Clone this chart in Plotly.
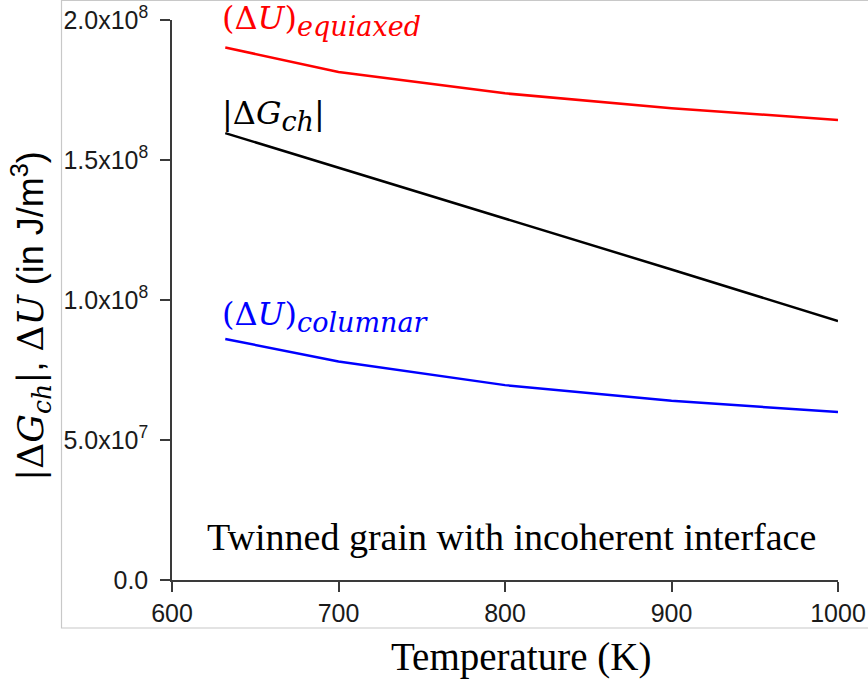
import plotly.graph_objects as go

temperature = [632, 700, 800, 900, 1000]
du_equiaxed = [1.902e8, 1.814e8, 1.738e8, 1.685e8, 1.643e8]
dg_ch = [1.596e8, 1.473e8, 1.292e8, 1.109e8, 0.925e8]
du_columnar = [0.861e8, 0.780e8, 0.696e8, 0.640e8, 0.600e8]

y_tickvals = [0, 0.5e8, 1.0e8, 1.5e8, 2.0e8]
y_ticktext = ["0.0", "5.0x10<sup>7</sup>", "1.0x10<sup>8</sup>", "1.5x10<sup>8</sup>", "2.0x10<sup>8</sup>"]
x_tickvals = [600, 700, 800, 900, 1000]

fig = go.Figure()
fig.add_trace(go.Scatter(x=temperature, y=du_equiaxed, mode="lines",
                         line=dict(color="#ff0000", width=2.5), showlegend=False))
fig.add_trace(go.Scatter(x=temperature, y=dg_ch, mode="lines",
                         line=dict(color="#000000", width=2.5), showlegend=False))
fig.add_trace(go.Scatter(x=temperature, y=du_columnar, mode="lines",
                         line=dict(color="#0000ff", width=2.5), showlegend=False))

axis_col = "#3a3a3a"
tick_font = dict(family="Liberation Sans, Arial", size=25, color="#1a1a1a")
fig.update_xaxes(range=[600, 1000], tickvals=x_tickvals, ticks="outside", ticklen=10,
                 tickwidth=1.5, tickcolor=axis_col, showline=True, linecolor=axis_col,
                 linewidth=1.5, showgrid=False, zeroline=False, automargin=False,
                 tickfont=tick_font)
fig.update_yaxes(range=[0, 2.0e8], tickvals=y_tickvals, ticktext=y_ticktext,
                 ticks="outside", ticklen=10, tickwidth=1.5, tickcolor=axis_col,
                 showline=True, linecolor=axis_col, linewidth=1.5, showgrid=False,
                 zeroline=False, automargin=False, tickfont=tick_font,
                 ticklabelstandoff=7)

math_font = "DejaVu Serif"
sub_style = "font-size:27px"
annotations = [
    dict(x=629, y=(580 - 21) / 560, xref="x", yref="paper", xanchor="left", yanchor="middle",
         text="(Δ<i>U</i>)<sub><span style='" + sub_style + "'><i>equiaxed</i></span></sub>",
         font=dict(family=math_font, size=32, color="#ff0000"), showarrow=False),
    dict(x=629, y=1.66e8, xref="x", yref="y", xanchor="left", yanchor="middle",
         text="|Δ<i>G</i><sub><span style='" + sub_style + "'><i>ch</i></span></sub>|",
         font=dict(family=math_font, size=32, color="#000000"), showarrow=False),
    dict(x=629, y=0.94e8, xref="x", yref="y", xanchor="left", yanchor="middle",
         text="(Δ<i>U</i>)<sub><span style='" + sub_style + "'><i>columnar</i></span></sub>",
         font=dict(family=math_font, size=32, color="#0000ff"), showarrow=False),
    dict(x=804, y=0.155e8, xref="x", yref="y", xanchor="center", yanchor="middle",
         text="Twinned grain with incoherent interface",
         font=dict(family="Liberation Serif", size=38, color="#000000"), showarrow=False),
    dict(x=(521 - 172) / 666, y=(580 - 657) / 560, xref="paper", yref="paper",
         xanchor="center", yanchor="middle", text="Temperature (K)",
         font=dict(family="Liberation Serif", size=39, color="#000000"), showarrow=False),
    dict(x=(31 - 172) / 666, y=(580 - 316) / 560, xref="paper", yref="paper",
         xanchor="center", yanchor="middle", textangle=-90,
         text=("|Δ<i>G</i><sub><i>ch</i></sub>|"
               "<span style='font-family:Liberation Sans'>, </span>Δ<i>U</i>"
               "<span style='font-family:Liberation Sans'> (in J/m<sup>3</sup>)</span>"),
         font=dict(family=math_font, size=36, color="#000000"), showarrow=False),
]

fig.update_layout(
    width=868, height=685,
    margin=dict(l=172, r=30, t=20, b=105, autoexpand=False),
    paper_bgcolor="white", plot_bgcolor="white",
    annotations=annotations,
    shapes=[dict(type="rect", xref="paper", yref="paper",
                 x0=(61.5 - 172) / 666, x1=(870 - 172) / 666,
                 y0=(580 - 628) / 560, y1=(580 - 0.5) / 560,
                 line=dict(color="#c8c8c8", width=1.2), fillcolor="rgba(0,0,0,0)",
                 layer="below")],
)

fig.write_html("out.html")
